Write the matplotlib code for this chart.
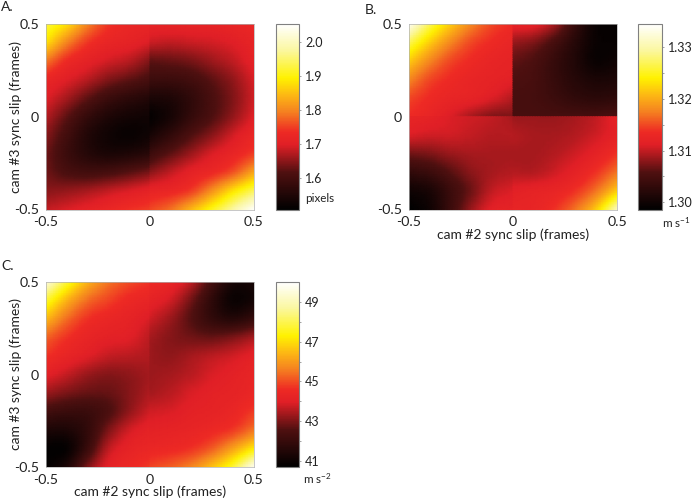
import numpy as np
import matplotlib
matplotlib.use("Agg")
import matplotlib.pyplot as plt
from matplotlib.colors import LinearSegmentedColormap

FONT = "Lato"
plt.rcParams["font.family"] = [FONT, "DejaVu Sans"]
plt.rcParams["mathtext.fontset"] = "custom"
plt.rcParams["mathtext.rm"] = FONT
plt.rcParams["mathtext.default"] = "rm"

x_slip = [-.5, -.4, -.3, -.2, -.1, 0, 0, .1, .2, .3, .4, .5]
y_a = [.5, .4, .3, .2, .1, 0, -.1, -.2, -.3, -.4, -.5]
y_b = [.5, .4, .3, .2, .1, 0, 0, -.1, -.2, -.3, -.4, -.5]

grid_a = [
 [1.93,1.88,1.80,1.745,1.725,1.72,1.715,1.715,1.715,1.715,1.72,1.725],
 [1.88,1.80,1.745,1.72,1.71,1.695,1.685,1.68,1.685,1.69,1.70,1.715],
 [1.79,1.735,1.71,1.69,1.675,1.645,1.625,1.63,1.64,1.66,1.68,1.71],
 [1.725,1.70,1.675,1.645,1.625,1.605,1.59,1.59,1.60,1.625,1.655,1.695],
 [1.70,1.665,1.625,1.59,1.57,1.555,1.545,1.55,1.575,1.61,1.645,1.69],
 [1.675,1.625,1.58,1.55,1.535,1.53,1.515,1.54,1.58,1.615,1.655,1.70],
 [1.65,1.60,1.555,1.53,1.52,1.53,1.54,1.575,1.615,1.65,1.69,1.725],
 [1.635,1.59,1.56,1.545,1.55,1.565,1.59,1.625,1.66,1.695,1.72,1.75],
 [1.635,1.61,1.60,1.605,1.62,1.64,1.65,1.68,1.71,1.73,1.765,1.83],
 [1.65,1.655,1.665,1.68,1.695,1.71,1.715,1.725,1.75,1.81,1.88,1.94],
 [1.68,1.695,1.71,1.725,1.74,1.75,1.755,1.785,1.845,1.91,1.98,2.05],
]
grid_b = [
 [1.334,1.327,1.322,1.318,1.315,1.3135,1.3125,1.312,1.309,1.3035,1.2995,1.299],
 [1.327,1.322,1.318,1.315,1.3135,1.3125,1.3085,1.3075,1.305,1.302,1.2995,1.2992],
 [1.322,1.318,1.315,1.3135,1.3125,1.312,1.3065,1.3055,1.3035,1.3015,1.2995,1.300],
 [1.318,1.315,1.3135,1.3125,1.312,1.3115,1.3055,1.305,1.3035,1.302,1.301,1.3012],
 [1.315,1.3135,1.3125,1.312,1.311,1.3095,1.305,1.3048,1.304,1.303,1.3025,1.3028],
 [1.3135,1.3125,1.311,1.309,1.3075,1.3075,1.305,1.305,1.305,1.305,1.305,1.3055],
 [1.3125,1.312,1.311,1.3105,1.310,1.309,1.3085,1.3085,1.3085,1.309,1.310,1.312],
 [1.311,1.3105,1.3105,1.310,1.3095,1.3095,1.3095,1.309,1.309,1.3095,1.3105,1.312],
 [1.307,1.3075,1.3085,1.309,1.309,1.309,1.309,1.309,1.3095,1.3105,1.312,1.314],
 [1.303,1.304,1.306,1.308,1.309,1.3095,1.3095,1.3095,1.3105,1.312,1.314,1.317],
 [1.300,1.301,1.304,1.307,1.310,1.311,1.3115,1.312,1.3125,1.314,1.317,1.322],
 [1.2985,1.300,1.304,1.3085,1.3115,1.312,1.3125,1.3125,1.314,1.317,1.322,1.331],
]
grid_c = [
 [49.5,47.8,46.4,45.5,45.0,44.7,44.6,44.3,43.6,42.3,41.3,41.2],
 [47.8,46.4,45.4,44.9,44.5,44.3,44.2,43.8,42.9,41.8,41.0,41.2],
 [46.5,45.4,44.7,44.4,44.2,43.9,43.8,43.3,42.6,41.9,41.6,42.0],
 [45.3,44.7,44.3,44.1,44.0,43.6,43.4,43.1,42.9,42.8,43.0,43.4],
 [44.7,44.3,44.0,43.7,43.6,43.5,43.3,43.2,43.4,43.6,43.8,44.1],
 [44.1,43.7,43.3,43.1,43.2,43.4,43.3,43.4,43.6,43.9,44.1,44.3],
 [43.3,43.0,42.8,42.8,43.1,43.5,43.4,43.6,43.9,44.1,44.2,44.4],
 [42.3,42.1,42.1,42.5,43.2,43.8,43.8,43.9,44.1,44.2,44.4,44.8],
 [41.4,41.4,41.9,43.0,43.8,44.2,44.1,44.2,44.3,44.5,44.8,45.5],
 [40.8,40.9,42.1,43.6,44.2,44.4,44.4,44.5,44.7,45.2,46.1,47.2],
 [40.8,41.4,43.0,44.1,44.5,44.8,44.9,45.2,45.7,46.6,47.8,49.8],
]

ranges = {"A": (1.506, 2.053), "B": (1.2985, 1.3345), "C": (40.7, 50.0)}
ticks_a = [1.6, 1.7, 1.8, 1.9, 2.0]
ticks_b = [1.30, 1.31, 1.32, 1.33]
ticks_c = [41, 43, 45, 47, 49]
minor_b = [1.305, 1.315, 1.325]
minor_c = [42, 44, 46, 48]
labels_a = ["1.6", "1.7", "1.8", "1.9", "2.0"]
labels_b = ["1.30", "1.31", "1.32", "1.33"]
labels_c = ["41", "43", "45", "47", "49"]

cmap = LinearSegmentedColormap.from_list("slip", [
    (0.0, "#000000"), (0.2, "#4f1010"), (0.35, "#e01f26"), (0.42, "#ee2a24"), (0.53, "#f58220"),
    (0.62, "#fdb913"), (0.71, "#fff200"), (0.86, "#fbf7a0"), (1.0, "#ffffff")], N=256)


def catmull(v, n=8):
    """Catmull-Rom refinement of a regularly spaced block along axis 0."""
    v = np.asarray(v, float)
    e = np.concatenate([[2 * v[0] - v[1]], v, [2 * v[-1] - v[-2]]])
    out = []
    for i in range(1, len(e) - 2):
        for k in range(n):
            t = k / n
            out.append(0.5 * (2 * e[i] + (e[i + 1] - e[i - 1]) * t
                              + (2 * e[i - 1] - 5 * e[i] + 4 * e[i + 1] - e[i + 2]) * t ** 2
                              + (3 * e[i] - e[i - 1] - 3 * e[i + 1] + e[i + 2]) * t ** 3))
    out.append(v[-1])
    return np.array(out)


def blocks(c):
    c = np.asarray(c, float)
    splits = [i + 1 for i in range(len(c) - 1) if c[i] == c[i + 1]]
    return np.split(np.arange(len(c)), splits)


def refine(xs, ys, grid):
    """Smooth the read-off grid inside each continuous block of the sync-slip plane."""
    g = np.array(grid, float)
    rows = []
    for ib in blocks(ys):
        cols = []
        for jb in blocks(xs):
            sub = g[np.ix_(ib, jb)]
            sub = np.array([catmull(r) for r in sub])
            sub = np.array([catmull(c) for c in sub.T]).T
            cols.append(sub)
        rows.append(np.hstack(cols))
    fx = np.concatenate([catmull(np.asarray(xs, float)[b]) for b in blocks(xs)])
    fy = np.concatenate([catmull(np.asarray(ys, float)[b]) for b in blocks(ys)])
    return fx, fy, np.vstack(rows)


W, H = 692, 503
fig = plt.figure(figsize=(W / 100, H / 100), dpi=100)
FS = 10.2
CS = 9.0
LS = 10
GRAY = "#808080"
INK = "#222222"


def box(l, t, r, b):
    return [l / W, 1 - b / H, (r - l) / W, (b - t) / H]


def panel(name, grid, ys, ticks, labels, minor, unit, ax_box, cb_box, xlabel, ylabel, letter_xy, unit_xy):
    ax = fig.add_axes(box(*ax_box))
    vmin, vmax = ranges[name]
    fx, fy, fg = refine(x_slip, ys, grid)
    m = ax.pcolormesh(fx, fy, fg, cmap=cmap, vmin=vmin, vmax=vmax,
                      shading="gouraud", rasterized=True)
    ax.set_xlim(-.5, .5); ax.set_ylim(-.5, .5)
    ax.set_xticks([-.5, 0, .5], ["-0.5", "0", "0.5"], fontsize=FS)
    ax.set_yticks([-.5, 0, .5], ["-0.5", "0", "0.5"], fontsize=FS)
    ax.tick_params(length=0, pad=5, colors=INK)
    for s in ax.spines.values():
        s.set_linewidth(0.5); s.set_color("#b0b0b0")
    if xlabel:
        ax.set_xlabel(xlabel, fontsize=LS, labelpad=0, color=INK)
    if ylabel:
        ax.set_ylabel(ylabel, fontsize=LS, labelpad=-6, color=INK)
    cax = fig.add_axes(box(*cb_box))
    cb = fig.colorbar(m, cax=cax)
    cb.set_ticks(ticks, labels=labels, fontsize=CS)
    cb.ax.set_yticks(minor, minor=True)
    cax.tick_params(which="both", length=1.5, width=0.5, direction="out", pad=3,
                    color=GRAY, labelcolor=INK)
    cb.outline.set_edgecolor(GRAY); cb.outline.set_linewidth(0.8)
    fig.text(letter_xy[0] / W, 1 - letter_xy[1] / H, name + ".", fontsize=LS, va="center", color=INK)
    fig.text(unit_xy[0] / W, 1 - unit_xy[1] / H, unit, fontsize=8.4, va="center", color=INK)


YL = "cam #3 sync slip (frames)"
XL = "cam #2 sync slip (frames)"
panel("A", grid_a, y_a, ticks_a, labels_a, [], "pixels", (46, 24, 254, 209.5), (276, 24, 299, 210),
      None, YL, (1, 7), (305, 199))
panel("B", grid_b, y_b, ticks_b, labels_b, minor_b, "m s$^{-1}$", (409, 24, 617, 209.5), (638, 24, 661.5, 210),
      XL, None, (365, 10), (662, 223))
panel("C", grid_c, y_a, ticks_c, labels_c, minor_c, "m s$^{-2}$", (46, 282, 254, 467), (276, 282, 299, 467),
      XL, YL, (1, 266), (303, 479))

fig.savefig("out.png", dpi=100)
